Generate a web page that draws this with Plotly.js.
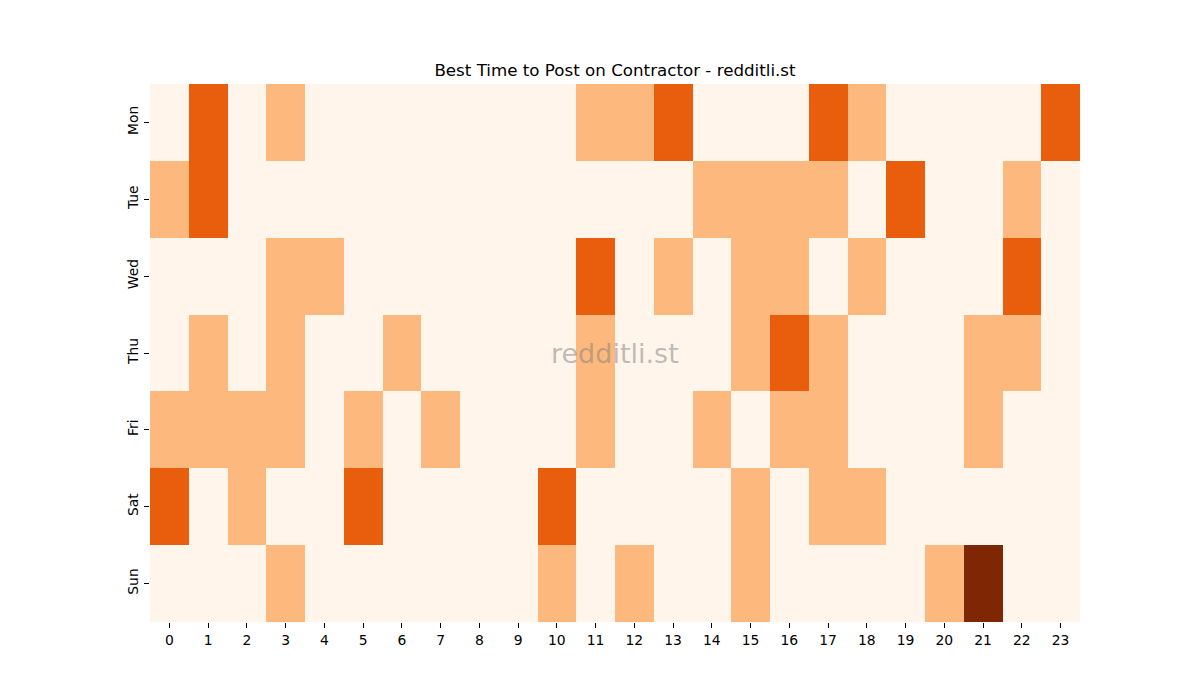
<!DOCTYPE html>
<html>
<head>
<meta charset="utf-8">
<script src="https://cdn.plot.ly/plotly-3.0.1.min.js"></script>
<style>
  body { margin: 0; background: #fff; }
  #heatmap_chart { width: 1200px; height: 700px; }
</style>
</head>
<body>
<div id="heatmap_chart"></div>
<script>
var HEATMAP_CHART = document.getElementById('heatmap_chart');

var hours = ['0','1','2','3','4','5','6','7','8','9','10','11','12','13','14','15','16','17','18','19','20','21','22','23'];
var days = ['Mon', 'Tue', 'Wed', 'Thu', 'Fri', 'Sat', 'Sun'];

var mon = [0,2,0,1,0,0,0,0,0,0,0,1,1,2,0,0,0,2,1,0,0,0,0,2];
var tue = [1,2,0,0,0,0,0,0,0,0,0,0,0,0,1,1,1,1,0,2,0,0,1,0];
var wed = [0,0,0,1,1,0,0,0,0,0,0,2,0,1,0,1,1,0,1,0,0,0,2,0];
var thu = [0,1,0,1,0,0,1,0,0,0,0,1,0,0,0,1,2,1,0,0,0,1,1,0];
var fri = [1,1,1,1,0,1,0,1,0,0,0,1,0,0,1,0,1,1,0,0,0,1,0,0];
var sat = [2,0,1,0,0,2,0,0,0,0,2,0,0,0,0,1,0,1,1,0,0,0,0,0];
var sun = [0,0,0,1,0,0,0,0,0,0,1,0,1,0,0,1,0,0,0,0,1,3,0,0];

// stepped "Oranges" levels 0..3
var oranges = [
    [0.0, '#fff5eb'], [0.1667, '#fff5eb'],
    [0.1667, '#fdb97d'], [0.5, '#fdb97d'],
    [0.5, '#e95e0d'], [0.8333, '#e95e0d'],
    [0.8333, '#7f2704'], [1.0, '#7f2704']
];

var trace = {
    type: 'heatmap',
    x: hours,
    y: days,
    z: [mon, tue, wed, thu, fri, sat, sun],
    zmin: 0,
    zmax: 3,
    colorscale: oranges,
    showscale: false,
    xgap: 0,
    ygap: 0
};

var layout = {
    width: 1200,
    height: 700,
    paper_bgcolor: '#ffffff',
    plot_bgcolor: '#ffffff',
    font: {family: 'DejaVu Sans', size: 13.9, color: '#000'},
    title: {text: 'Best Time to Post on Contractor - redditli.st',
            font: {size: 16.7, color: '#000'},
            x: 0.5, xref: 'paper', y: 0.9, yref: 'container', yanchor: 'middle'},
    margin: {l: 150, r: 120, t: 84, b: 78, pad: 0},
    xaxis: {type: 'category', ticks: 'outside', ticklen: 5, tickcolor: '#000',
            showgrid: false, zeroline: false, showline: false,
            tickfont: {size: 13.9, color: '#000'}},
    yaxis: {type: 'category', autorange: 'reversed', ticks: 'outside', ticklen: 5,
            tickcolor: '#000', tickangle: -90, showgrid: false, zeroline: false,
            showline: false, tickfont: {size: 13.9, color: '#000'}},
    annotations: [{text: 'redditli.st', xref: 'paper', yref: 'paper', x: 0.5, y: 0.5,
                   showarrow: false, font: {size: 27, color: 'rgba(128,128,128,0.5)'}}]
};

var config = {'displayModeBar': false, 'responsive': false};

Plotly.newPlot(HEATMAP_CHART, [trace], layout, config);
</script>
</body>
</html>
